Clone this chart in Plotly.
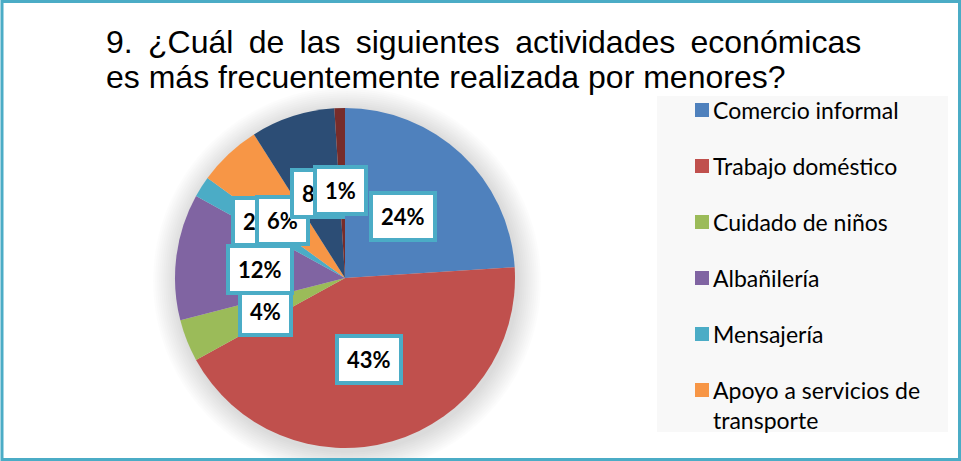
import math
import plotly.graph_objects as go

# ---- data ----
labels = ["Comercio informal", "Trabajo doméstico", "Cuidado de niños", "Albañilería",
          "Mensajería", "Apoyo a servicios de transporte", "Otras actividades", "Ninguna"]
values = [24, 43, 4, 12, 2, 6, 8, 1]
legend_text = ["Comercio informal", "Trabajo doméstico", "Cuidado de niños", "Albañilería",
               "Mensajería", "Apoyo a servicios de<br>transporte"]
colors = ["#4F81BD", "#C0504D", "#9BBB59", "#8064A2", "#4BACC6", "#F79646", "#2C4D75", "#772C2A"]
title_lines = ["9.\u2009 ¿Cuál \u2009de \u2009las \u2009siguientes \u2009actividades \u2009económicas",
               "es más frecuentemente realizada por menores?"]

W, H = 961, 461
ACCENT = "#4BACC6"


def px(x):
    return x / W


def py(y):
    return 1 - y / H


# pie geometry (pixels)
cx, cy, R = 345, 278, 170

fig = go.Figure()
fig.add_trace(go.Pie(
    labels=labels, values=values, sort=False, direction="clockwise", rotation=0,
    marker=dict(colors=colors, line=dict(width=0)),
    textinfo="none", showlegend=False, hoverinfo="label+percent",
    domain=dict(x=[px(cx - R), px(cx + R)], y=[py(cy + R), py(cy - R)]),
))

shapes = []
# soft shadow around pie
for k in range(12, 0, -1):
    r = R + 2 * k
    shapes.append(dict(type="circle", xref="paper", yref="paper", layer="below",
                       x0=px(cx - r + 2), x1=px(cx + r + 2), y0=py(cy + r + 3), y1=py(cy - r + 3),
                       fillcolor="rgba(0,0,0,0.012)", line=dict(width=0)))
# legend background
shapes.append(dict(type="rect", xref="paper", yref="paper", layer="below",
                   x0=px(657), x1=px(948), y0=py(432), y1=py(96),
                   fillcolor="#F8F8F8", line=dict(width=0)))
# frame
shapes.append(dict(type="rect", xref="paper", yref="paper", layer="above",
                   x0=px(2), x1=px(959.5), y0=py(459.5), y1=py(1.5),
                   line=dict(color=ACCENT, width=3), fillcolor="rgba(0,0,0,0)"))

annotations = []
# title
annotations.append(dict(text=title_lines[0], xref="paper", yref="paper", x=px(104), y=py(42),
                        xanchor="left", yanchor="middle", showarrow=False,
                        font=dict(family="Liberation Sans, Arial", size=32, color="#000000")))
annotations.append(dict(text=title_lines[1], xref="paper", yref="paper", x=px(104), y=py(77),
                        xanchor="left", yanchor="middle", showarrow=False,
                        font=dict(family="Liberation Sans, Arial", size=32, color="#000000")))

# legend (box shows first six entries)
row_y = 110
for i, t in enumerate(legend_text):
    shapes.append(dict(type="rect", xref="paper", yref="paper",
                       x0=px(695), x1=px(709), y0=py(row_y + 7), y1=py(row_y - 7),
                       fillcolor=colors[i], line=dict(width=0)))
    annotations.append(dict(text=t, xref="paper", yref="paper", x=px(711), y=py(row_y - 16),
                            xanchor="left", yanchor="top", align="left", showarrow=False,
                            font=dict(family="Lato, Calibri, sans-serif", size=23, color="#000000")))
    row_y += 56

# data labels (centre of slices at half radius), with small nudges like the original
total = sum(values)
nudges = [(0, 0), (0, 0), (0, 2), (-1, 2), (-15, -11), (-4, 4), (-1, -4), (-2, -3)]
cum = [sum(values[:i]) for i in range(len(values))]
for i in range(len(values)):
    mid = (cum[i] + values[i] / 2) / total * 2 * math.pi
    d = 0.5 * R
    lx = cx + d * math.sin(mid) + nudges[i][0]
    ly = cy - d * math.cos(mid) + nudges[i][1]
    pct = round(values[i] / total * 100)
    annotations.append(dict(text=f"<b>{pct}%</b>", xref="paper", yref="paper",
                            x=px(lx), y=py(ly), xanchor="center", yanchor="middle", showarrow=False,
                            font=dict(family="Lato, Calibri, sans-serif", size=22, color="#000000"),
                            bgcolor="#FFFFFF", bordercolor=ACCENT, borderwidth=4, borderpad=8))

fig.update_layout(width=W, height=H, margin=dict(l=0, r=0, t=0, b=0),
                  paper_bgcolor="#FFFFFF", plot_bgcolor="#FFFFFF",
                  shapes=shapes, annotations=annotations, showlegend=False)

fig.write_html("out.html", config={"displayModeBar": False},
               post_script="document.body.style.margin='0';document.body.style.overflow='hidden';")
